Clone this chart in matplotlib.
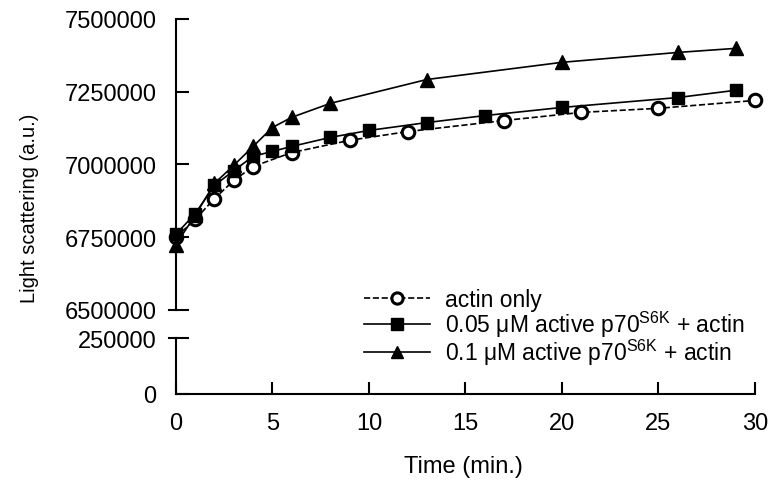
import numpy as np
import matplotlib
matplotlib.use("Agg")
import matplotlib.pyplot as plt

plt.rcParams['font.family'] = ['Liberation Sans', 'DejaVu Sans']
plt.rcParams['mathtext.fontset'] = 'custom'
plt.rcParams['mathtext.rm'] = 'Liberation Sans'

# actin only
t_actin = [0, 1, 2, 3, 4, 6, 9, 12, 17, 21, 25, 30]
y_actin = [6750000, 6811000, 6883000, 6945000, 6993000, 7041000, 7083000,
           7113000, 7151000, 7179000, 7193000, 7220000]

# 0.05 uM active p70S6K + actin
t_005 = [0, 1, 2, 3, 4, 5, 6, 8, 10, 13, 16, 20, 26, 29]
y_005 = [6760000, 6831000, 6928000, 6979000, 7028000, 7045000, 7062000,
         7093000, 7117000, 7144000, 7168000, 7196000, 7230000, 7255000]

# 0.1 uM active p70S6K + actin
t_01 = [0, 1, 2, 3, 4, 5, 6, 8, 13, 20, 26, 29]
y_01 = [6725000, 6825000, 6935000, 6997000, 7062000, 7127000, 7162000,
        7210000, 7292000, 7351000, 7385000, 7399000]

top_ticks = [6500000, 6750000, 7000000, 7250000, 7500000]
bot_ticks = [0, 250000]
x_ticks = [0, 5, 10, 15, 20, 25, 30]

labels = ['actin only',
          '0.05 \u03bcM active p70$^{\\mathregular{S6K}}$ + actin',
          '0.1 \u03bcM active p70$^{\\mathregular{S6K}}$ + actin']

fig = plt.figure(figsize=(7.68, 4.85), dpi=100)
ax = fig.add_axes([0.229, 0.3588, 0.754, 0.6])
ax2 = fig.add_axes([0.229, 0.1856, 0.754, 0.1154])

lw = 1.2
h1, = ax.plot(t_actin, y_actin, '--', color='k', lw=lw, marker='o', ms=9,
              mfc='white', mec='k', mew=2.2, clip_on=False, zorder=3)
h2, = ax.plot(t_005, y_005, '-', color='k', lw=lw, marker='s', ms=9,
              mfc='k', mec='k', clip_on=False, zorder=4)
h3, = ax.plot(t_01, y_01, '-', color='k', lw=lw, marker='^', ms=10,
              mfc='k', mec='k', clip_on=False, zorder=5)

for a in (ax, ax2):
    a.set_xlim(0, 30)
    a.spines['top'].set_visible(False)
    a.spines['right'].set_visible(False)
    a.spines['left'].set_linewidth(1.5)
    a.spines['bottom'].set_linewidth(1.5)

ax.set_ylim(6500000, 7500000)
ax.set_yticks(top_ticks)
ax.set_yticklabels([str(v) for v in top_ticks])
ax.spines['bottom'].set_visible(False)
ax.set_xticks([])
ax.tick_params(axis='y', direction='in', length=9, width=1.5,
               labelsize=17, pad=14)

ax2.set_ylim(0, 250000)
ax2.set_yticks(bot_ticks)
ax2.set_yticklabels([str(v) for v in bot_ticks])
ax2.set_xticks(x_ticks)
ax2.tick_params(axis='y', direction='in', length=9, width=1.5,
                labelsize=17, pad=14)
ax2.tick_params(axis='x', direction='in', length=9, width=1.5,
                labelsize=17, pad=13)

fig.text(0.604, 1 - 467 / 485, 'Time (min.)', ha='center', va='center',
         fontsize=17)

# break marks on the y axis
ax.plot([-0.012, 0.0], [0, 0], transform=ax.transAxes, color='k',
        lw=1.5, clip_on=False)
ax2.plot([-0.012, 0.0], [1, 1], transform=ax2.transAxes, color='k',
         lw=1.5, clip_on=False)

fig.text(0.038, 0.57, 'Light scattering (a.u.)', rotation=90,
         ha='center', va='center', fontsize=14.5)

fig.legend([h1, h2, h3], labels, loc='upper left',
           bbox_to_anchor=(0.462, 0.424), frameon=False, fontsize=16.5,
           handlelength=2.9, handletextpad=0.65, labelspacing=-0.08,
           borderaxespad=0, markerscale=0.9)

fig.savefig('out.png', dpi=100)
